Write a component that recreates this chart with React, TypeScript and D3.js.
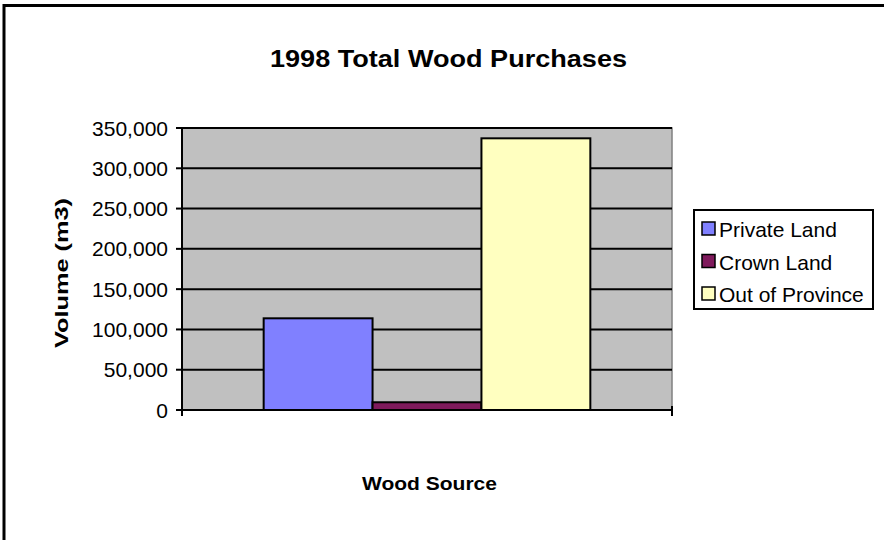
import React from "react";
import * as d3 from "d3";

const categories = ["1998"];
const seriesNames = ["Private Land", "Crown Land", "Out of Province"];
const seriesValues = [113800, 9600, 337200];
const seriesColors = ["#8080FF", "#7F1A5C", "#FFFFC0"];
const yTicks = [0, 50000, 100000, 150000, 200000, 250000, 300000, 350000];

const W = 884;
const H = 540;
const plot = { left: 182, right: 672, top: 128, bottom: 410 };
const FONT = "'Liberation Sans', Arimo, Arial, sans-serif";

export default function App() {
  const y = d3.scaleLinear().domain([0, 350000]).range([plot.bottom, plot.top]);
  const xCat = d3
    .scaleBand<string>()
    .domain(categories)
    .range([plot.left, plot.right])
    .paddingInner(0)
    .paddingOuter(0.25);
  const xSer = d3
    .scaleBand<string>()
    .domain(seriesNames)
    .range([0, xCat.bandwidth()])
    .padding(0);
  const fmt = d3.format(",");

  const legend = { x: 694, y: 210, w: 179, h: 99 };
  const legendBaselines = [237, 269.5, 302];

  return (
    <svg
      width={W}
      height={H}
      style={{ position: "absolute", left: 0, top: 0, display: "block", background: "#fff" }}
      fontFamily={FONT}
    >
      <rect x={0} y={0} width={W} height={H} fill="#fff" />
      {/* outer chart border (extends beyond right/bottom) */}
      <rect x={4} y={5.5} width={W + 20} height={H + 20} fill="none" stroke="#000" strokeWidth={3} />

      {/* plot area */}
      <rect
        x={plot.left}
        y={plot.top}
        width={plot.right - plot.left}
        height={plot.bottom - plot.top}
        fill="#C0C0C0"
        stroke="#808080"
        strokeWidth={1.5}
      />

      {/* gridlines */}
      {yTicks.slice(1).map((t) => (
        <line
          key={"g" + t}
          x1={plot.left}
          x2={plot.right}
          y1={y(t)}
          y2={y(t)}
          stroke="#000"
          strokeWidth={2}
        />
      ))}

      {/* bars */}
      {categories.map((c) =>
        seriesNames.map((s, i) => (
          <rect
            key={c + s}
            x={(xCat(c) ?? 0) + (xSer(s) ?? 0)}
            y={y(seriesValues[i])}
            width={xSer.bandwidth()}
            height={y(0) - y(seriesValues[i])}
            fill={seriesColors[i]}
            stroke="#000"
            strokeWidth={2}
          />
        ))
      )}

      {/* y axis */}
      <line x1={plot.left} x2={plot.left} y1={plot.top} y2={plot.bottom + 6} stroke="#000" strokeWidth={2} />
      {yTicks.map((t) => (
        <g key={"t" + t}>
          <line x1={plot.left - 6} x2={plot.left} y1={y(t)} y2={y(t)} stroke="#000" strokeWidth={2} />
          <text x={168} y={y(t) + 7.5} textAnchor="end" fontSize={21} fill="#000">
            {fmt(t)}
          </text>
        </g>
      ))}

      {/* x axis */}
      <line x1={plot.left} x2={plot.right} y1={plot.bottom} y2={plot.bottom} stroke="#000" strokeWidth={2} />
      <line x1={plot.right} x2={plot.right} y1={plot.bottom - 4} y2={plot.bottom + 6} stroke="#000" strokeWidth={2} />

      {/* title */}
      <text
        x={448.5}
        y={66.5}
        textAnchor="middle"
        fontSize={23}
        fontWeight="bold"
        textLength={357}
        lengthAdjust="spacingAndGlyphs"
      >
        1998 Total Wood Purchases
      </text>

      {/* axis titles */}
      <text
        x={429.5}
        y={490}
        textAnchor="middle"
        fontSize={17.5}
        fontWeight="bold"
        textLength={135}
        lengthAdjust="spacingAndGlyphs"
      >
        Wood Source
      </text>
      <text
        transform={`translate(68,273) rotate(-90)`}
        textAnchor="middle"
        fontSize={18}
        fontWeight="bold"
        textLength={150}
        lengthAdjust="spacingAndGlyphs"
      >
        Volume (m3)
      </text>

      {/* legend */}
      <rect x={legend.x} y={legend.y} width={legend.w} height={legend.h} fill="#fff" stroke="#000" strokeWidth={2} />
      {seriesNames.map((s, i) => (
        <g key={"l" + s}>
          <rect
            x={702}
            y={legendBaselines[i] - 15}
            width={13}
            height={13}
            fill={seriesColors[i]}
            stroke="#000"
            strokeWidth={1.5}
          />
          <text x={719} y={legendBaselines[i]} fontSize={21} fill="#000">
            {s}
          </text>
        </g>
      ))}
    </svg>
  );
}
